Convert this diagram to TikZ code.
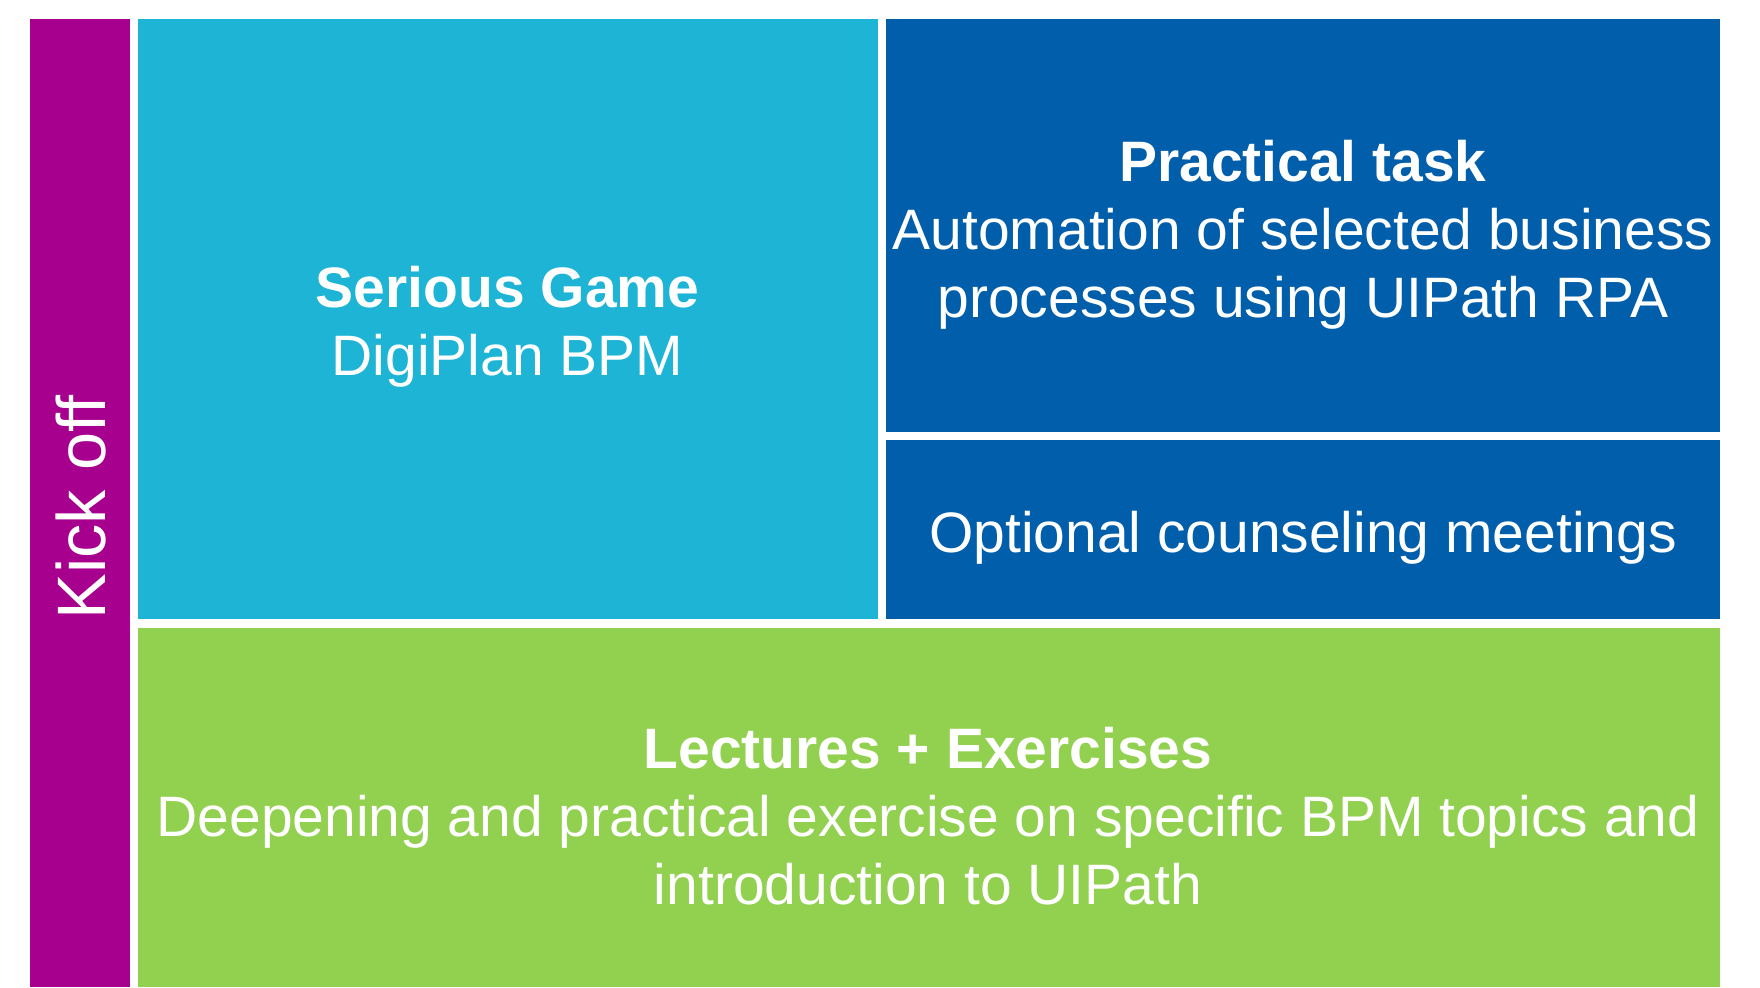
\documentclass[tikz,border=0pt]{standalone}
\usepackage{fontspec}
\setmainfont{Liberation Sans}
\definecolor{kickoff}{RGB}{168,0,142}
\definecolor{gamecyan}{RGB}{30,180,213}
\definecolor{taskblue}{RGB}{0,94,170}
\definecolor{lecturegreen}{RGB}{146,208,80}
\begin{document}
\begin{tikzpicture}[x=1pt,y=-1pt,
  paneltext/.style={text=white,align=center,inner sep=0pt,
    font=\fontsize{57}{68}\selectfont},
  sidetext/.style={text=white,inner sep=0pt,rotate=90,
    font=\fontsize{68.5}{80}\selectfont}]
  \useasboundingbox (0,0) rectangle (1760,987);
  % coloured panels
  \fill[kickoff]      (30,19.5)    rectangle (129.5,987);
  \fill[gamecyan]     (137.5,19.5) rectangle (877.7,619.3);
  \fill[taskblue]     (886,19.5)   rectangle (1720.3,431.7);
  \fill[taskblue]     (886,440.3)  rectangle (1720.3,619.3);
  \fill[lecturegreen] (137.5,628.3) rectangle (1720.3,987);
  % labels
  \node[sidetext] (kick) at (81,507.5) {Kick off};
  \node[paneltext] (game) at (507.6,327) {\textbf{Serious Game}\\DigiPlan BPM};
  \node[paneltext] (task) at (1303,234.5) {\textbf{Practical task}\\Automation of selected business\\processes using UIPath RPA};
  \node[paneltext] (meet) at (1303,538) {Optional counseling meetings};
  \node[paneltext] (lect) at (928,816) {\textbf{Lectures + Exercises}\\Deepening and practical exercise on specific BPM topics and\\introduction to UIPath};
\end{tikzpicture}
\end{document}
